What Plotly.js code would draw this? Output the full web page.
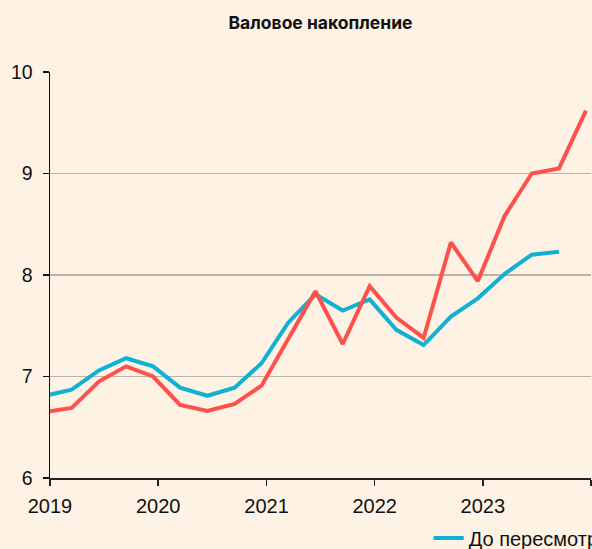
<!DOCTYPE html>
<html>
<head>
<meta charset="utf-8">
<script src="https://cdn.plot.ly/plotly-3.0.1.min.js"></script>
<style>
  html, body { margin: 0; padding: 0; overflow: hidden; background: #fdf2e3; }
  #chart { width: 592px; height: 549px; }
</style>
</head>
<body>
<div id="chart"></div>
<script>
// Quarterly dates (placed mid last month of each quarter)
const dates = [
  "2018-12-15", "2019-03-15", "2019-06-15", "2019-09-15",
  "2019-12-15", "2020-03-15", "2020-06-15", "2020-09-15",
  "2020-12-15", "2021-03-15", "2021-06-15", "2021-09-15",
  "2021-12-15", "2022-03-15", "2022-06-15", "2022-09-15",
  "2022-12-15", "2023-03-15", "2023-06-15", "2023-09-15",
  "2023-12-15"
];
// До пересмотра (blue)
const beforeRevision = [
  6.81, 6.87, 7.06, 7.18, 7.10, 6.89, 6.81, 6.89, 7.13, 7.53,
  7.81, 7.65, 7.76, 7.46, 7.31, 7.59, 7.77, 8.01, 8.20, 8.23
];
// После пересмотра (red)
const afterRevision = [
  6.65, 6.69, 6.95, 7.10, 7.00, 6.72, 6.66, 6.73, 6.91, 7.37,
  7.84, 7.32, 7.89, 7.58, 7.38, 8.32, 7.94, 8.58, 9.00, 9.05,
  9.62
];
const yTicks = [6, 7, 8, 9, 10];
const xTickVals = ["2019-01-01", "2020-01-01", "2021-01-01", "2022-01-01", "2023-01-01", "2024-01-01"];
const xTickText = ["2019", "2020", "2021", "2022", "2023", ""];

const bg = "#fdf2e3";
const tickFont = { family: "Liberation Sans Narrow, Arial Narrow, Liberation Sans, sans-serif", size: 20, color: "#111111" };

const traces = [
  {
    x: dates.slice(0, beforeRevision.length),
    y: beforeRevision,
    type: "scatter",
    mode: "lines",
    name: "До пересмотра",
    line: { color: "#10b1d3", width: 4 }
  },
  {
    x: dates,
    y: afterRevision,
    type: "scatter",
    mode: "lines",
    name: "После пересмотра",
    line: { color: "#fd514d", width: 4 }
  }
];

const layout = {
  width: 592,
  height: 549,
  paper_bgcolor: bg,
  plot_bgcolor: bg,
  margin: { l: 50, r: 1, t: 72, b: 71, autoexpand: false },
  title: {
    text: "<b>Валовое накопление</b>",
    font: { family: "Inter, Noto Sans, sans-serif", size: 17.5, color: "#111111" },
    x: 0.5,
    xref: "paper",
    xanchor: "center",
    y: 0.958,
    yref: "container",
    yanchor: "middle"
  },
  xaxis: {
    type: "date",
    range: ["2019-01-01", "2024-01-01"],
    tickmode: "array",
    tickvals: xTickVals,
    ticktext: xTickText,
    showgrid: false,
    showline: true,
    linecolor: "#222222",
    linewidth: 2,
    ticks: "outside",
    ticklen: 6,
    tickwidth: 1.5,
    tickcolor: "#222222",
    ticklabelstandoff: 3,
    tickfont: tickFont,
    zeroline: false,
    fixedrange: true
  },
  yaxis: {
    range: [6, 10],
    tickmode: "array",
    tickvals: yTicks,
    showgrid: true,
    gridcolor: "#bdb2a7",
    gridwidth: 1.2,
    showline: true,
    linecolor: "#111111",
    linewidth: 1.5,
    ticks: "outside",
    ticklen: 6,
    tickwidth: 1.5,
    tickcolor: "#111111",
    ticklabelstandoff: 6,
    tickfont: { family: tickFont.family, size: 19.5, color: "#111111" },
    zeroline: false,
    fixedrange: true
  },
  showlegend: true,
  legend: {
    orientation: "h",
    x: 0.70,
    xanchor: "left",
    y: -0.10,
    yanchor: "top",
    bgcolor: "rgba(0,0,0,0)",
    font: { family: tickFont.family, size: 20, color: "#111111" }
  }
};

Plotly.newPlot("chart", traces, layout, { displayModeBar: false, staticPlot: true });
</script>
</body>
</html>
